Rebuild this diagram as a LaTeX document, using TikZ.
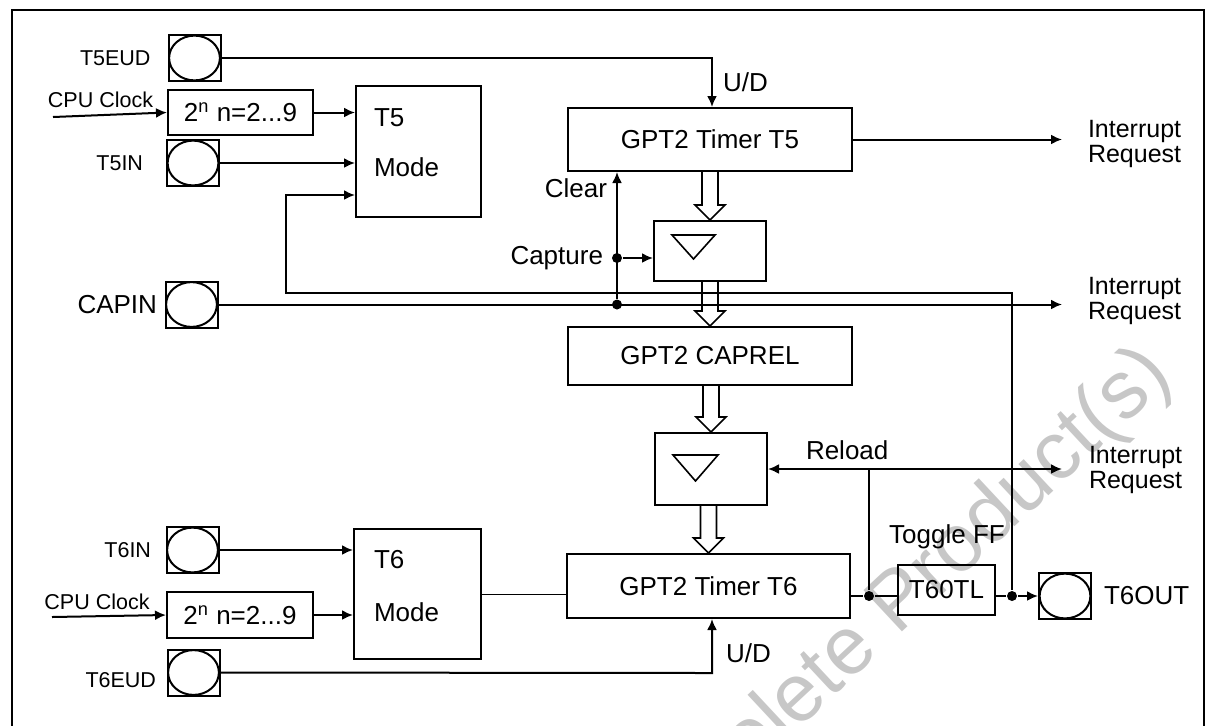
\documentclass[tikz,border=0pt]{standalone}
\usepackage{fontspec}
\setmainfont{Liberation Sans}
\usepackage{tikz}
\usetikzlibrary{arrows.meta,calc,positioning}
\newcommand{\lblfont}{\fontsize{13}{15}\selectfont}
\newcommand{\pinfont}{\fontsize{10.75}{12}\selectfont}
\newcommand{\irqfont}{\fontsize{12.5}{8.8}\selectfont}

\begin{document}
\begin{tikzpicture}[x=0.5pt, y=-0.5pt, line width=1pt, >={Latex[length=5.5pt,width=5pt]},
  blk/.style={draw, inner sep=0pt, font=\lblfont},
  pad/.style={draw, inner sep=0pt, minimum width=26pt, minimum height=23pt,
    path picture={\draw (path picture bounding box.center) ellipse [x radius=12.7pt, y radius=11.2pt];}},
  pinlbl/.style={inner sep=0pt, font=\pinfont},
  lbl/.style={inner sep=0pt, font=\lblfont},
  irq/.style={inner sep=0pt, font=\irqfont, align=left, anchor=west},
  dot/.style={circle, fill, inner sep=0pt, minimum size=5pt}]
\useasboundingbox (0,0) rectangle (1215,725);
%----- watermark -----
\node[rotate=43, text=black!22, font=\fontsize{41}{43}\selectfont] (wm) at (893,612) {Obsolete Product(s)};
\draw (11.5,726) -- (11.5,10) -- (1204,10) -- (1204,726);

%----- timer T5 side -----
\node[pad] (t5eud) at (194.5,58) {};
\node[pinlbl, left=8pt of t5eud] (t5eudl) {T5EUD};
\node[blk, minimum width=72.5pt, minimum height=22.5pt] (pre5) at (240.5,112.5) {2\textsuperscript{n} n=2...9};
\node[pinlbl] (clk5l) at (100.5,100) {CPU Clock};
\coordinate (clk5) at (53,117);
\node[pad] (t5in) at (193,163) {};
\node[pinlbl, left=11pt of t5in] (t5inl) {T5IN};
\node[blk, minimum width=62.5pt, minimum height=65.5pt] (mode5) at (418.5,151.5) {};
\node[lbl, anchor=west] (m5a) at (373,118) {T5};
\node[lbl, anchor=west] (m5b) at (373,167) {Mode};
\node[blk, minimum width=142pt, minimum height=31.5pt] (tim5) at (710,139.5) {GPT2 Timer T5};
\coordinate (ud5) at (712,58);
\node[lbl, anchor=west] (ud5l) at (722,82) {U/D};
\node[blk, minimum width=56pt, minimum height=30pt] (lat5) at (710,251) {};
\draw[line width=0.8pt] (672,235) -- (715,235) -- (693.5,259) -- cycle;

%----- CAPIN and CAPREL -----
\node[pad] (capin) at (191.5,304.5) {};
\node[lbl, left=3.25pt of capin] (capinl) {CAPIN};
\node[dot] (dclr) at (617,304.5) {};
\node[dot] (dcap) at (617,258) {};
\node[lbl, anchor=east] (clrl) at (608,188) {Clear};
\node[lbl, anchor=east] (capl) at (604,258) {Capture};
\node[blk, minimum width=142pt, minimum height=29pt] (caprel) at (710,356) {GPT2 CAPREL};
\node[blk, minimum width=56pt, minimum height=36pt] (lat6) at (711,469) {};
\draw[line width=0.8pt] (673,455) -- (718,455) -- (695.5,481) -- cycle;

%----- timer T6 side -----
\node[pad] (t6in) at (192.5,550) {};
\node[pinlbl, left=6.75pt of t6in] (t6inl) {T6IN};
\node[blk, minimum width=73pt, minimum height=23pt] (pre6) at (240,615) {2\textsuperscript{n} n=2...9};
\node[pinlbl] (clk6l) at (97,602) {CPU Clock};
\coordinate (clk6) at (52,617);
\node[pad] (t6eud) at (193.5,672.5) {};
\node[pinlbl, left=4.75pt of t6eud, yshift=-3.75pt] (t6eudl) {T6EUD};
\node[blk, minimum width=63.5pt, minimum height=65pt] (mode6) at (417.5,594) {};
\node[lbl, anchor=west] (m6a) at (373,560) {T6};
\node[lbl, anchor=west] (m6b) at (373,612) {Mode};
\node[blk, minimum width=141.5pt, minimum height=32pt] (tim6) at (708.5,586) {GPT2 Timer T6};
\coordinate (ud6) at (712,673);
\node[lbl, anchor=west] (ud6l) at (725,653) {U/D};
\node[dot] (drl) at (869,596) {};
\coordinate (rl) at (869,469);
\node[lbl, anchor=west] (rll) at (805,450) {Reload};
\node[blk, minimum width=48.5pt, minimum height=25pt] (t60tl) at (946.5,590) {T60TL};
\node[lbl] (tffl) at (947,537) {Toggle FF};
\node[dot] (dout) at (1012,596) {};
\node[pad] (t6out) at (1065,596) {};
\node[lbl, right=5.5pt of t6out] (t6outl) {T6OUT};

%----- interrupt requests -----
\coordinate (irq1) at (1062,142);
\coordinate (irq2) at (1062,304.5);
\coordinate (irq3) at (1062,469);
\node[irq] (irq1l) at (1087,144) {Interrupt\\Request};
\node[irq] (irq2l) at (1087,301) {Interrupt\\Request};
\node[irq] (irq3l) at (1088,470) {Interrupt\\Request};

%----- connections -----
\draw[->] (t5eud.east) -- (ud5) -- (ud5 |- tim5.north);
\draw[->] (clk5) -- (pre5.west);
\draw[->] (pre5.east) -- (pre5.east -| mode5.west);
\draw[->] (t5in.east) -- (t5in.east -| mode5.west);
\draw[->] (tim5.east) -- (tim5.east -| irq1);
\coordinate (fb1) at (286,293);
\coordinate (fb2) at (286,195);
\draw[->] (dout) |- (fb1) -- (fb2) -- (fb2 -| mode5.west);
\draw[->] (capin.east) -- (irq2);
\draw[->] (dclr) -- (dclr |- tim5.south);
\draw[->] (dcap) -- (dcap -| lat5.west);
% bus arrows
\foreach \a/\b in {tim5/lat5, lat5/caprel, caprel/lat6, lat6/tim6}
  \draw[line width=0.8pt] let \p1=(\a.south), \p2=(\b.north) in
    (\x2-4pt,\y1) -- (\x2-4pt,\y2+7.5pt) -- (\x2-7.5pt,\y2+7.5pt) -- (\x2,\y2)
    -- (\x2+7.5pt,\y2+7.5pt) -- (\x2+4pt,\y2+7.5pt) -- (\x2+4pt,\y1);
\draw[->] (t6in.east) -- (t6in.east -| mode6.west);
\draw[->] (clk6) -- (pre6.west);
\draw[->] (pre6.east) -- (pre6.east -| mode6.west);
\draw[line width=0.5pt] (mode6.east) -- (mode6.east -| tim6.west);
\draw[->] (t6eud.east) -- (ud6) -- (ud6 |- tim6.south);
\draw (tim6.east |- drl) -- (drl) -- (t60tl.west |- drl);
\draw[->] (drl) -- (rl) -- (rl -| lat6.east);
\draw[->] (rl) -- (irq3);
\draw[->] (t60tl.east |- dout) -- (dout) -- (t6out.west);
\end{tikzpicture}
\end{document}
